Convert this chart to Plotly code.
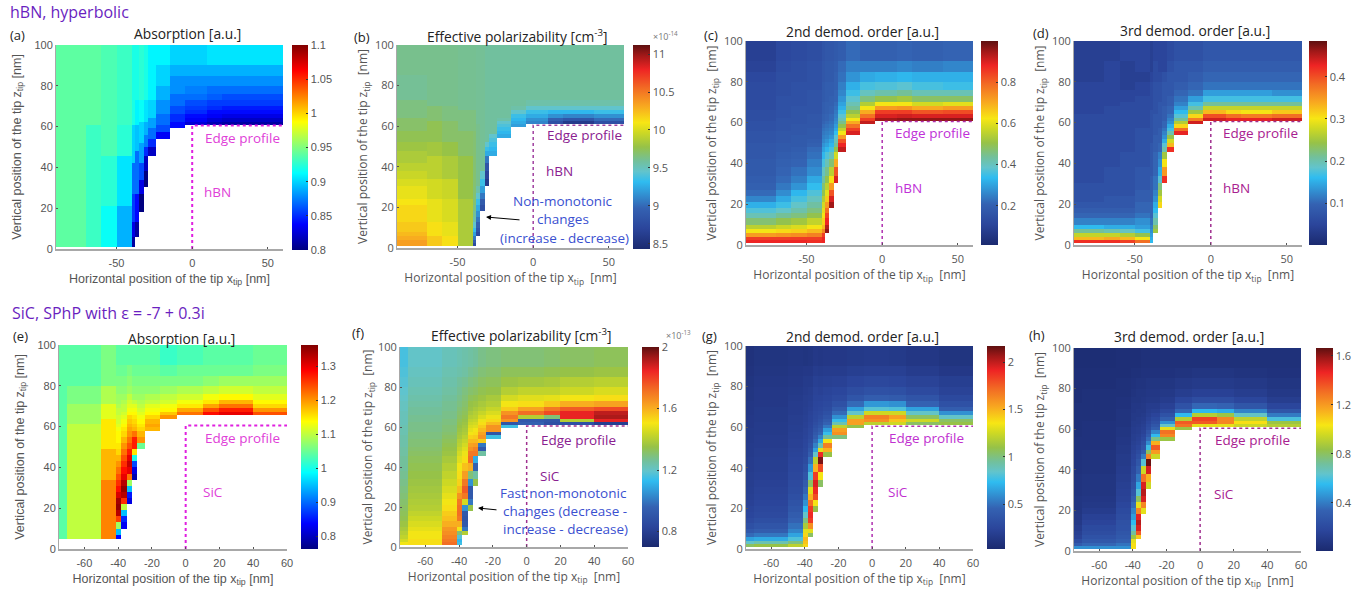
import plotly.graph_objects as go

# column edges (nm)
X_HBN = [-90,-70,-60,-50,-40,-38,-35,-32,-29,-24,-15,-5,10,20,40,60]
X_SIC = [-75,-70,-50,-41,-38,-35,-32,-29,-24,-15,-5,10,20,40,60]
# row edges (nm)
Z_FINE = [1,2.5,4,6,8,10,13,15.5,18,21,24,27,30.5,34,38,42,45.5,48,50,52,54,56,57.5,59.5,61,62.5,64,66,68,70,73,76,80,85,90,100]
Z_E = [5,7,10,13,16,19,22,25,28,31,34,37,40,43,46,49,52,55,58,60,61.5,63.5,65.5,67,69,71,73,76,80,85,90,100]
# first row index of each column (white below it: the sample)
BOT_H = [0,0,0,0,0,3,8,12,16,20,23,24,24,24,24]
BOT_S = [0,0,0,0,3,8,12,16,20,23,24,24,24,24]
BOT_E = [0,0,0,0,2,6,10,15,18,21,22,22,22,22]

# Each panel: one list per column, from the sample surface up, in hundredths
A_COLS = [
 [94]*35,
 [93]*24+[94]*11,
 [91.5]*9+[92.5]*7+[93.5]*19,
 [89]*9+[90.5]*7+[92.5]*8+[93]*11,
 [81]*3+[83]*3+[85.5]*5+[87]*4+[90]*9+[92]*11,
 [81]*3+[84]*5+[87]*6+[89.5]*7+[91]*6+[92]*5,
 [80]*3+[83]*2+[86]*2+[88.5]*4+[90]*6+[91.5]*5+[92.5]*5,
 [80]*2+[82]*2+[85]*2+[87.5]*3+[89]*4+[90.5]*5+[92]*5,
 [82]*2+[85]*2+[87]*3+[88.5]*3+[90]*4+[91]*5,
 [83.5]*2+[86]*2+[87]*3+[88]*3+[89]*2+[90]*2+[91],
 [84]*2+[85]*2+[86]*2+[87]*2+[88]*2+[89,90],
 [82.5,83.5,84,85,85.5,86,87,87.5,88,89,90],
 [81.5,82.5,83.5,84,85,85.5,86.5,87,88,89,90.5],
 [81,82,83,84,84.5,85.5,86,87,88,89,90.5],
 [81,82,83,84,84.5,85.5,86,87,88,89,90.5],
]
B_COLS = [
 [1035,1035,1030,1025,1020,1020,1015,1015,1015,1010,1005,1005,1000,995,990,985,985,980,980,975,975,975,970,970,970,970,965,965,965,965,960,960,960,962,962],
 [1020]*3+[1012]*3+[1005]*4+[998]*3+[990]*3+[982]*3+[975]*6+[968]*4+[962]*6,
 [1012]*3+[1005]*3+[1000]*4+[995]*3+[985]*3+[978]*3+[970]*6+[965]*4+[962]*6,
 [985]*10+[978]*6+[970]*6+[965]*6+[961]*7,
 [875,890,905,920,935,945,955,960,965,968]+[968]*12+[965]*6+[961]*7,
 [875,885,895,905,915,925,935,945,955]+[962]*12+[960]*11,
 [880,890,905,920,935,945]+[960]*21,
 [860,870,885,905,925,935,945]+[958]*16,
 [925,930,935,940,945]+[958]*14,
 [925,930,935,940,945,955]+[958]*9,
 [920,925,930,935,945,955]+[958]*6,
 [910,915,925,935,945,955]+[958]*5,
 [880,895,915,930,945,955]+[958]*5,
 [860,885,910,930,945,955]+[958]*5,
 [880,900,915,935,945,955]+[958]*5,
]
C_COLS = [
 [88,85,72,62,55,47,41,37,32,26,22,20,19,18,18,17,17,17,16,16,16,15,15,15,14,14,14,13,13,13,13,13,12,10,9],
 [88,85,73,64,57,50,44,39,35,31,27,24,22,21,20,19,18,18,17,17,17,16,16,16,16,15,15,15,15,15,14,14,14,13,12],
 [88,85,74,65,59,52,46,42,39,36,33,28,25,23,21,20,19,18,18,18,17,17,17,16,16,16,16,16,15,15,15,15,14,14,13],
 [87,85,76,68,62,56,50,46,43,40,37,34,31,27,25,23,22,20,19,18,18,18,17,17,17,17,16,16,16,16,16,15,15,15,14],
 [88,88,85,75,68,65,62,60,58,54,50,47,43,40,36,33,30,28,26,25,24,23,22,21,20,20,19,19,19,18,18,18,17,17,16],
 [96,93,88,84,78,72,66,60,55,50,45,41,37,33,30,28,26,25,24,23,22,21,21,20,20,20,19,19,19,18,18,17],
 [95,90,82,72,63,55,47,41,36,33,31,28,26,25,24,23,22,22,21,21,20,20,19,19,18,18,17],
 [90,82,70,58,50,44,41,38,34,31,29,27,26,25,24,23,22,21,21,20,20,19,18],
 [92,88,82,72,62,56,50,45,41,38,35,32,30,28,26,25,23,22,19],
 [90,85,78,70,62,55,50,44,41,38,35,32,28,25,22],
 [92,85,78,70,62,54,46,40,36,31,25,20],
 [95,90,85,72,62,50,42,37,32,25,20],
 [96,91,85,73,62,52,44,38,33,26,21],
 [96,90,82,70,58,48,41,36,32,25,20],
 [96,90,83,72,60,48,41,35,32,26,21],
]
D_COLS = [
 [42,33,27,21,16,12,10,9,8,7,7,7,6,6,6,6,6,6,6,6,6,6,6,6,6,6,5,5,5,5,5,5,4,4,4],
 [42,34,27,20,15,12,10,9,8,8,7,7,7,7,6,6,6,6,6,6,6,6,6,6,6,6,6,6,5,5,5,5,5,5,4],
 [41,33,26,19,15,12,10,9,8,8,7,7,7,7,7,7,6,6,6,6,6,6,6,6,6,6,6,6,6,5,5,4,4,4,5],
 [38,30,24,17,14,13,11,10,10,9,9,8,8,8,7,7,7,7,7,7,7,7,6,6,6,6,6,6,6,6,5,5,4,5,5],
 [16,15,14,13,12,11,10,10,10,9,9,9,9,8,8,8,8,8,7,7,7,7,7,7,7,7,7,6,6,6,6,6,5,4,4],
 [25,23,20,18,16,15,13,12,11,11,10,10,10,9,9,9,9,8,8,8,8,8,8,7,7,7,7,7,7,6,6,5],
 [31,28,25,22,18,15,13,12,10,10,9,9,9,9,8,8,8,8,8,8,8,7,7,7,6,5,5],
 [42,35,30,25,20,18,15,13,12,11,10,10,9,9,9,9,8,8,8,8,7,5,5],
 [42,33,28,24,20,17,15,13,12,11,10,10,9,9,8,8,8,7,6],
 [43,38,31,26,21,18,16,14,12,11,10,9,8,8,7],
 [44,37,31,25,20,17,14,11,10,9,8,7],
 [44,40,33,27,21,17,14,11,10,9,8],
 [43,38,31,27,21,17,14,11,10,9,8],
 [43,37,30,27,21,17,14,11,10,9,8],
 [44,38,32,27,21,17,13,11,10,9,8],
]
E_COLS = [
 [104]*31,
 [110]*20+[108]*5+[106]*3+[104]*3,
 [121]*10+[118]*5+[115]*6+[112]*4+[109]*3+[106]*3,
 [84,95,108,125,133,135,134,131,128,126,124,122,120,118,116,115,114,114,113,112,111,111,110,110,109,108,108,107,106,105,104],
 [83,86,95,110,126,133,135,133,130,128,126,124,122,120,118,116,115,114,113,112,111,110,110,109,108,107,106,105,104],
 [82,85,95,108,122,130,132,130,127,124,122,120,119,118,117,116,114,113,112,111,110,108,107,106,104],
 [79,82,88,100,115,127,127,122,118,117,116,115,114,113,112,110,108,107,106,105,104],
 [105,120,118,116,115,114,113,112,111,110,109,108,107,106,105,104],
 [118,119,118,116,114,113,112,110,109,107,106,105,104],
 [120,117,114,113,111,110,108,106,104,102],
 [122,119,115,113,111,109,106,105,103],
 [128,124,119,115,113,110,107,105,104],
 [130,127,122,118,114,111,108,105,104],
 [124,120,116,114,112,110,108,106,105],
]
F_COLS = [
 [150,145,142,140,138,136,134,133,132,131,130,129,128,127,126,126,125,125,124,124,124,123,123,123,122,122,122,122,121,121,120,119,118,117,116],
 [152,152,150,150,148,146,144,142,140,139,138,137,136,135,134,133,132,131,130,130,129,129,128,128,128,127,127,126,126,125,124,123,122,121,120],
 [172,170,168,166,164,160,157,155,152,150,148,146,144,142,140,138,136,135,134,133,132,131,130,130,129,129,128,128,127,127,126,125,124,123,122],
 [115,112,118,130,150,160,170,172,172,170,165,158,154,152,150,147,145,143,141,140,138,137,136,135,134,133,132,131,130,129,128,127,126,124,123],
 [140,100,92,90,92,105,145,170,175,170,163,157,152,149,147,145,143,141,139,138,137,136,135,134,133,132,131,130,129,127,125,124],
 [135,100,92,92,105,130,160,172,170,165,162,158,154,150,148,146,144,142,140,138,136,135,133,131,129,127,125],
 [135,125,95,110,170,168,163,158,155,152,150,147,145,143,141,140,138,136,134,132,130,128,126],
 [125,92,100,155,165,162,158,155,152,149,146,143,140,138,136,134,132,130,128],
 [115,90,165,165,158,153,149,146,143,140,138,135,133,131,129],
 [115,90,165,170,165,155,150,145,140,136,133,130],
 [95,92,140,172,162,152,147,142,137,133,130],
 [88,90,130,178,170,156,148,142,138,134,131],
 [88,140,185,185,175,160,150,144,140,135,132],
 [80,185,192,190,178,162,152,146,141,136,133],
]
G_COLS = [
 [105,85,65,48,38,32,28,25,23,21,20,19,18,18,17,17,16,16,16,15,15,15,15,14,14,14,14,13,13,13,12,12,11,10,9],
 [110,90,68,52,42,36,31,28,26,24,23,22,21,20,19,19,18,18,17,17,17,16,16,16,16,15,15,15,15,14,14,14,13,12,11],
 [120,100,80,66,56,50,45,41,37,34,31,29,28,26,25,24,23,22,21,21,20,20,19,19,18,18,18,17,17,17,16,15,14,13,12],
 [140,145,148,140,130,115,100,85,72,60,52,46,40,36,32,29,27,26,25,24,23,22,22,21,21,20,20,19,19,18,18,17,16,14,11],
 [105,130,160,185,190,185,170,150,130,105,80,62,50,42,37,33,30,28,27,26,25,24,23,23,22,21,20,19,18,16,14,12],
 [110,135,180,190,195,185,150,120,85,65,55,48,42,38,35,32,30,28,27,26,25,24,23,22,20,17,14],
 [105,135,180,212,190,130,90,68,55,46,42,37,34,32,30,28,26,25,23,21,19,16,13],
 [110,150,165,135,95,75,65,52,45,40,36,32,29,27,25,23,20,17,14],
 [100,160,155,120,90,75,60,48,40,33,28,25,21,17,14],
 [110,155,155,120,85,65,48,36,30,24,19,15],
 [120,160,165,125,82,62,42,33,26,20,16],
 [125,145,155,125,80,60,40,32,25,20,15],
 [105,125,105,85,65,45,35,28,22,17,13],
 [110,105,85,60,42,33,27,22,19,14,11],
]
H_COLS = [
 [45,30,22,16,14,12,10,9,8,8,8,7,7,7,6,6,6,6,6,6,6,5,5,5,5,5,5,5,5,5,4,4,4,4,3],
 [45,35,28,25,22,20,17,15,12,10,9,8,8,8,7,7,7,7,6,6,6,6,6,6,6,6,5,5,5,5,5,5,4,4,3],
 [45,38,32,29,27,25,24,22,20,18,16,15,14,13,12,11,11,10,10,9,9,8,8,8,7,7,7,7,7,6,6,5,5,4,4],
 [105,105,100,85,72,62,55,48,42,36,31,27,24,22,20,18,17,16,15,14,13,13,12,12,11,11,10,10,9,9,8,7,6,5,4],
 [110,135,150,155,148,125,100,80,62,50,40,32,27,23,20,18,16,15,14,13,13,12,11,11,10,10,9,8,8,7,5,4],
 [100,125,150,155,150,130,95,62,40,30,26,23,20,18,16,15,14,13,12,11,10,10,9,8,7,6,5],
 [95,115,150,165,125,80,58,44,36,30,26,22,20,18,16,14,13,12,10,9,8,6,5],
 [95,120,135,115,75,55,42,32,27,23,20,17,14,12,10,9,8,6,5],
 [85,125,130,100,65,45,32,25,19,15,12,10,8,6,5],
 [85,130,135,90,55,35,25,18,13,10,7,5],
 [100,135,140,90,55,35,22,15,11,8,5],
 [100,125,125,85,52,34,22,15,11,8,5],
 [95,105,92,65,42,27,18,13,10,7,5],
 [90,85,60,40,27,18,13,10,8,6,5],
]

EDGE_X = [0,0,60]
EDGE_Y = [0,60.5,60.5]
Y_TICKS = [0,20,40,60,80,100]
X_TICKS_H = [-50,0,50]
X_TICKS_S = [-60,-40,-20,0,20,40,60]
JET = [[0,"#000080"],[.125,"#0000ff"],[.375,"#00ffff"],[.625,"#ffff00"],[.875,"#ff0000"],[1,"#800000"]]
SOFT = [[0,"#1b2a6f"],[.1,"#2b459b"],[.2,"#3462b2"],[.33,"#2fbcf0"],[.38,"#62c4cc"],[.43,"#72c09c"],[.5,"#96c248"],
        [.57,"#cdd824"],[.62,"#f7e614"],[.7,"#f8a820"],[.79,"#f26a24"],[.88,"#ee2424"],[.95,"#a01818"],[1,"#5e1010"]]

ARIAL = "Liberation Sans"
OPEN = "Open Sans"
GREY = "#555555"
XT_A = "Horizontal position of the tip x<sub>tip</sub> [nm]"
YT_A = "Vertical position of the tip z<sub>tip</sub> [nm]"
XT_O = "Horizontal position of the tip x<sub>tip</sub>  [nm]"
YT_O = "Vertical position of the tip z<sub>tip</sub>  [nm]"
PANELS = [
 dict(tag="(a)",tagpos=(8,35),title="Absorption [a.u.]",tpos=(187,34),box=(56,283,45,249),cb=(292,308,45,250),
      xe=X_HBN,ze=Z_FINE,bot=BOT_H,cols=A_COLS,zr=(.80,1.10),cm=JET,cbt=[.8,.85,.9,.95,1,1.05,1.1],cbl=["0.8","0.85","0.9","0.95","1","1.05","1.1"],
      xt=X_TICKS_H,font=ARIAL,dot="#e020e0",txt="#e040d8",mat="hBN",ep=(242,138),mp=(217,192),xs=6,ys=10,ts=12.5,dw=2,
      xtitle=XT_A,ytitle=YT_A),
 dict(tag="(b)",tagpos=(352,37),title="Effective polarizability [cm<sup>-3</sup>]",tpos=(517,36),box=(397,624,45,248),cb=(633,650,45,249),
      xe=X_HBN,ze=Z_FINE,bot=BOT_H,cols=B_COLS,zr=(8.43,11.12),cm=SOFT,cbt=[8.5,9,9.5,10,10.5,11],cbl=["8.5","9","9.5","10","10.5","11"],
      xt=X_TICKS_H,font=OPEN,dot="#a040a0",txt="#8a2090",mat="hBN",ep=(584,135),mp=(559,171),xs=6,ys=4,ts=12,dw=1.5,
      xtitle=XT_O,ytitle=YT_O),
 dict(tag="(c)",tagpos=(702,35),title="2nd demod. order [a.u.]",tpos=(863,32),box=(746,973,41,245),cb=(981,998,41,245),
      xe=X_HBN,ze=Z_FINE,bot=BOT_H,cols=C_COLS,zr=(.01,1.0),cm=SOFT,cbt=[.2,.4,.6,.8],cbl=["0.2","0.4","0.6","0.8"],
      xt=X_TICKS_H,font=OPEN,dot="#b030b0",txt="#c030d8",mat="hBN",ep=(932,133),mp=(908,188),xs=6,ys=4,ts=12,dw=1.5,
      xtitle=XT_O,ytitle=YT_O),
 dict(tag="(d)",tagpos=(1031,33),title="3rd demod. order [a.u.]",tpos=(1195,31),box=(1074,1302,41,245),cb=(1309,1327,41,245),
      xe=X_HBN,ze=Z_FINE,bot=BOT_H,cols=D_COLS,zr=(.001,.485),cm=SOFT,cbt=[.1,.2,.3,.4],cbl=["0.1","0.2","0.3","0.4"],
      xt=X_TICKS_H,font=OPEN,dot="#a03090",txt="#a82090",mat="hBN",ep=(1260,133),mp=(1236,188),xs=6,ys=4,ts=12,dw=1.5,
      xtitle=XT_O,ytitle=YT_O),
 dict(tag="(e)",tagpos=(11,336),title="Absorption [a.u.]",tpos=(181,338),box=(59,287,345,549),cb=(301,318,345,549),
      xe=X_SIC,ze=Z_E,bot=BOT_E,cols=E_COLS,zr=(.762,1.362),cm=JET,cbt=[.8,.9,1,1.1,1.2,1.3],cbl=["0.8","0.9","1","1.1","1.2","1.3"],
      xt=X_TICKS_S,font=ARIAL,dot="#e020e0",txt="#e040d8",mat="SiC",ep=(242,438),mp=(213,492),xs=6,ys=10,ts=12.5,dw=2,
      xtitle=XT_A,ytitle=YT_A),
 dict(tag="(f)",tagpos=(350,333),title="Effective polarizability [cm<sup>-3</sup>]",tpos=(521,335),box=(400,628,347,547),cb=(642,659,347,547),
      xe=X_SIC,ze=Z_FINE,bot=BOT_S,cols=F_COLS,zr=(.70,2.0),cm=SOFT,cbt=[.8,1.2,1.6,2],cbl=["0.8","1.2","1.6","2"],
      xt=X_TICKS_S,font=OPEN,dot="#a03090",txt="#8a2090",mat="SiC",ep=(578,440),mp=(550,476),xs=4,ys=2,ts=12,dw=1.5,
      xtitle=XT_O,ytitle=YT_O),
 dict(tag="(g)",tagpos=(700,336),title="2nd demod. order [a.u.]",tpos=(863,336),box=(746,973,346,549),cb=(987,1005,346,549),
      xe=X_SIC,ze=Z_FINE,bot=BOT_S,cols=G_COLS,zr=(.025,2.17),cm=SOFT,cbt=[.5,1,1.5,2],cbl=["0.5","1","1.5","2"],
      xt=X_TICKS_S,font=OPEN,dot="#b030b0",txt="#c030d0",mat="SiC",ep=(927,438),mp=(898,492),xs=5,ys=4,ts=12,dw=1.5,
      xtitle=XT_O,ytitle=YT_O),
 dict(tag="(h)",tagpos=(1027,335),title="3rd demod. order [a.u.]",tpos=(1189,336),box=(1074,1301,348,551),cb=(1316,1333,348,551),
      xe=X_SIC,ze=Z_FINE,bot=BOT_S,cols=H_COLS,zr=(.008,1.665),cm=SOFT,cbt=[.4,.8,1.2,1.6],cbl=["0.4","0.8","1.2","1.6"],
      xt=X_TICKS_S,font=OPEN,dot="#a03090",txt="#a82090",mat="SiC",ep=(1252,440),mp=(1224,494),xs=4,ys=4,ts=12,dw=1.5,
      xtitle=XT_O,ytitle=YT_O),
]
NOTES = [
 ("Non-monotonic",(563,201)),("changes",(563,219)),("(increase - decrease)",(564,238)),
 ("Fast non-monotonic",(563,493)),("changes (decrease -",(565,511)),("increase - decrease)",(565,529)),
]
ARROWS = [((486,217),(521,220)),((478,508),(498,510))]
MULTIPLIERS = [("×10<sup>-14</sup>",(665,36)),("×10<sup>-13</sup>",(678,335))]
HEADERS = [("hBN, hyperbolic",(8,12)),("SiC, SPhP with ε = -7 + 0.3i",(10,313))]

W, H = 1366, 593
def px(x): return x / W
def py(y): return 1 - y / H

def grid(cols, bot, nrows):
    full = []
    for col, b in zip(cols, bot):
        c = [None]*b + list(col)
        c = c[:nrows] + [c[-1]]*max(0, nrows-len(c))
        full.append(c)
    return [[None if full[j][i] is None else full[j][i]/100 for j in range(len(full))] for i in range(nrows)]

def note(text, pos, size, color, font=OPEN, anchor="center"):
    return dict(text=text, x=px(pos[0]), y=py(pos[1]), xref="paper", yref="paper", showarrow=False,
                xanchor=anchor, yanchor="middle", font=dict(size=size, color=color, family=font))

fig = go.Figure()
anns = []
for i, p in enumerate(PANELS, start=1):
    l, r, t, b = p["box"]
    cl, cr, ct, cb_ = p["cb"]
    ax = "" if i == 1 else str(i)
    fig.add_trace(go.Heatmap(
        x=p["xe"], y=p["ze"], z=grid(p["cols"], p["bot"], len(p["ze"])-1),
        zmin=p["zr"][0], zmax=p["zr"][1], colorscale=p["cm"], xaxis="x"+ax, yaxis="y"+ax, hoverongaps=False,
        colorbar=dict(x=px(cl), xanchor="left", xpad=0, ypad=0, y=py((ct+cb_)/2), yanchor="middle",
                      thicknessmode="pixels", thickness=cr-cl, lenmode="pixels", len=cb_-ct, outlinewidth=0,
                      tickvals=p["cbt"], ticktext=p["cbl"], ticks="inside", ticklen=2, tickcolor="#333333",
                      tickfont=dict(size=11, color=GREY, family=p["font"]))))
    fig.add_trace(go.Scatter(x=EDGE_X, y=EDGE_Y, mode="lines", showlegend=False, xaxis="x"+ax, yaxis="y"+ax,
                             line=dict(color=p["dot"], width=p["dw"], dash="dot"), hoverinfo="skip"))
    tf = dict(size=11, color=GREY, family=p["font"])
    ttf = dict(size=p["ts"], color=GREY, family=p["font"])
    fig.update_layout({
        "xaxis"+ax: dict(domain=[px(l),px(r)], anchor="y"+ax, range=[p["xe"][0],60], tickvals=p["xt"], ticktext=[str(v) for v in p["xt"]],
                         showgrid=False, zeroline=False, ticklabelstandoff=3,
                         showline=True, linecolor="#a8a8a8", linewidth=1.5, ticks="inside", ticklen=2, tickcolor="#555555",
                         tickfont=tf, title=dict(text=p["xtitle"], font=ttf, standoff=p["xs"])),
        "yaxis"+ax: dict(domain=[py(b),py(t)], anchor="x"+ax, range=[0,100], tickvals=Y_TICKS, showgrid=False, zeroline=False,
                         showline=True, linecolor="#a8a8a8", linewidth=1, ticks="inside", ticklen=2, tickcolor="#555555",
                         tickfont=tf, title=dict(text=p["ytitle"], font=ttf, standoff=p["ys"])),
    })
    anns.append(note(p["tag"], p["tagpos"], 13, "#222222", OPEN, "left"))
    anns.append(note(p["title"], p["tpos"], 13.8, "#222222"))
    anns.append(note("Edge profile", p["ep"], 13.5, p["txt"]))
    anns.append(note(p["mat"], p["mp"], 13.5, p["txt"]))
for text, pos in NOTES:
    anns.append(note(text, pos, 13.5, "#3a50d0"))
for text, pos in MULTIPLIERS:
    anns.append(note(text, pos, 9, "#777777"))
for text, pos in HEADERS:
    anns.append(note(text, pos, 16, "#6a1fc0", OPEN, "left"))
for head, tail in ARROWS:
    anns.append(dict(x=px(head[0]), y=py(head[1]), xref="paper", yref="paper", text="", showarrow=True,
                     ax=tail[0]-head[0], ay=tail[1]-head[1], arrowhead=2, arrowsize=1, arrowwidth=1, arrowcolor="#000000"))

fig.update_layout(width=W, height=H, margin=dict(l=0,r=0,t=0,b=0,autoexpand=False), autosize=False,
                  paper_bgcolor="white", plot_bgcolor="white", showlegend=False, annotations=anns,
                  font=dict(family=OPEN))
fig.write_html("out.html", config=dict(displayModeBar=False),
               post_script="document.body.style.margin='0';document.documentElement.style.overflow='hidden';")
